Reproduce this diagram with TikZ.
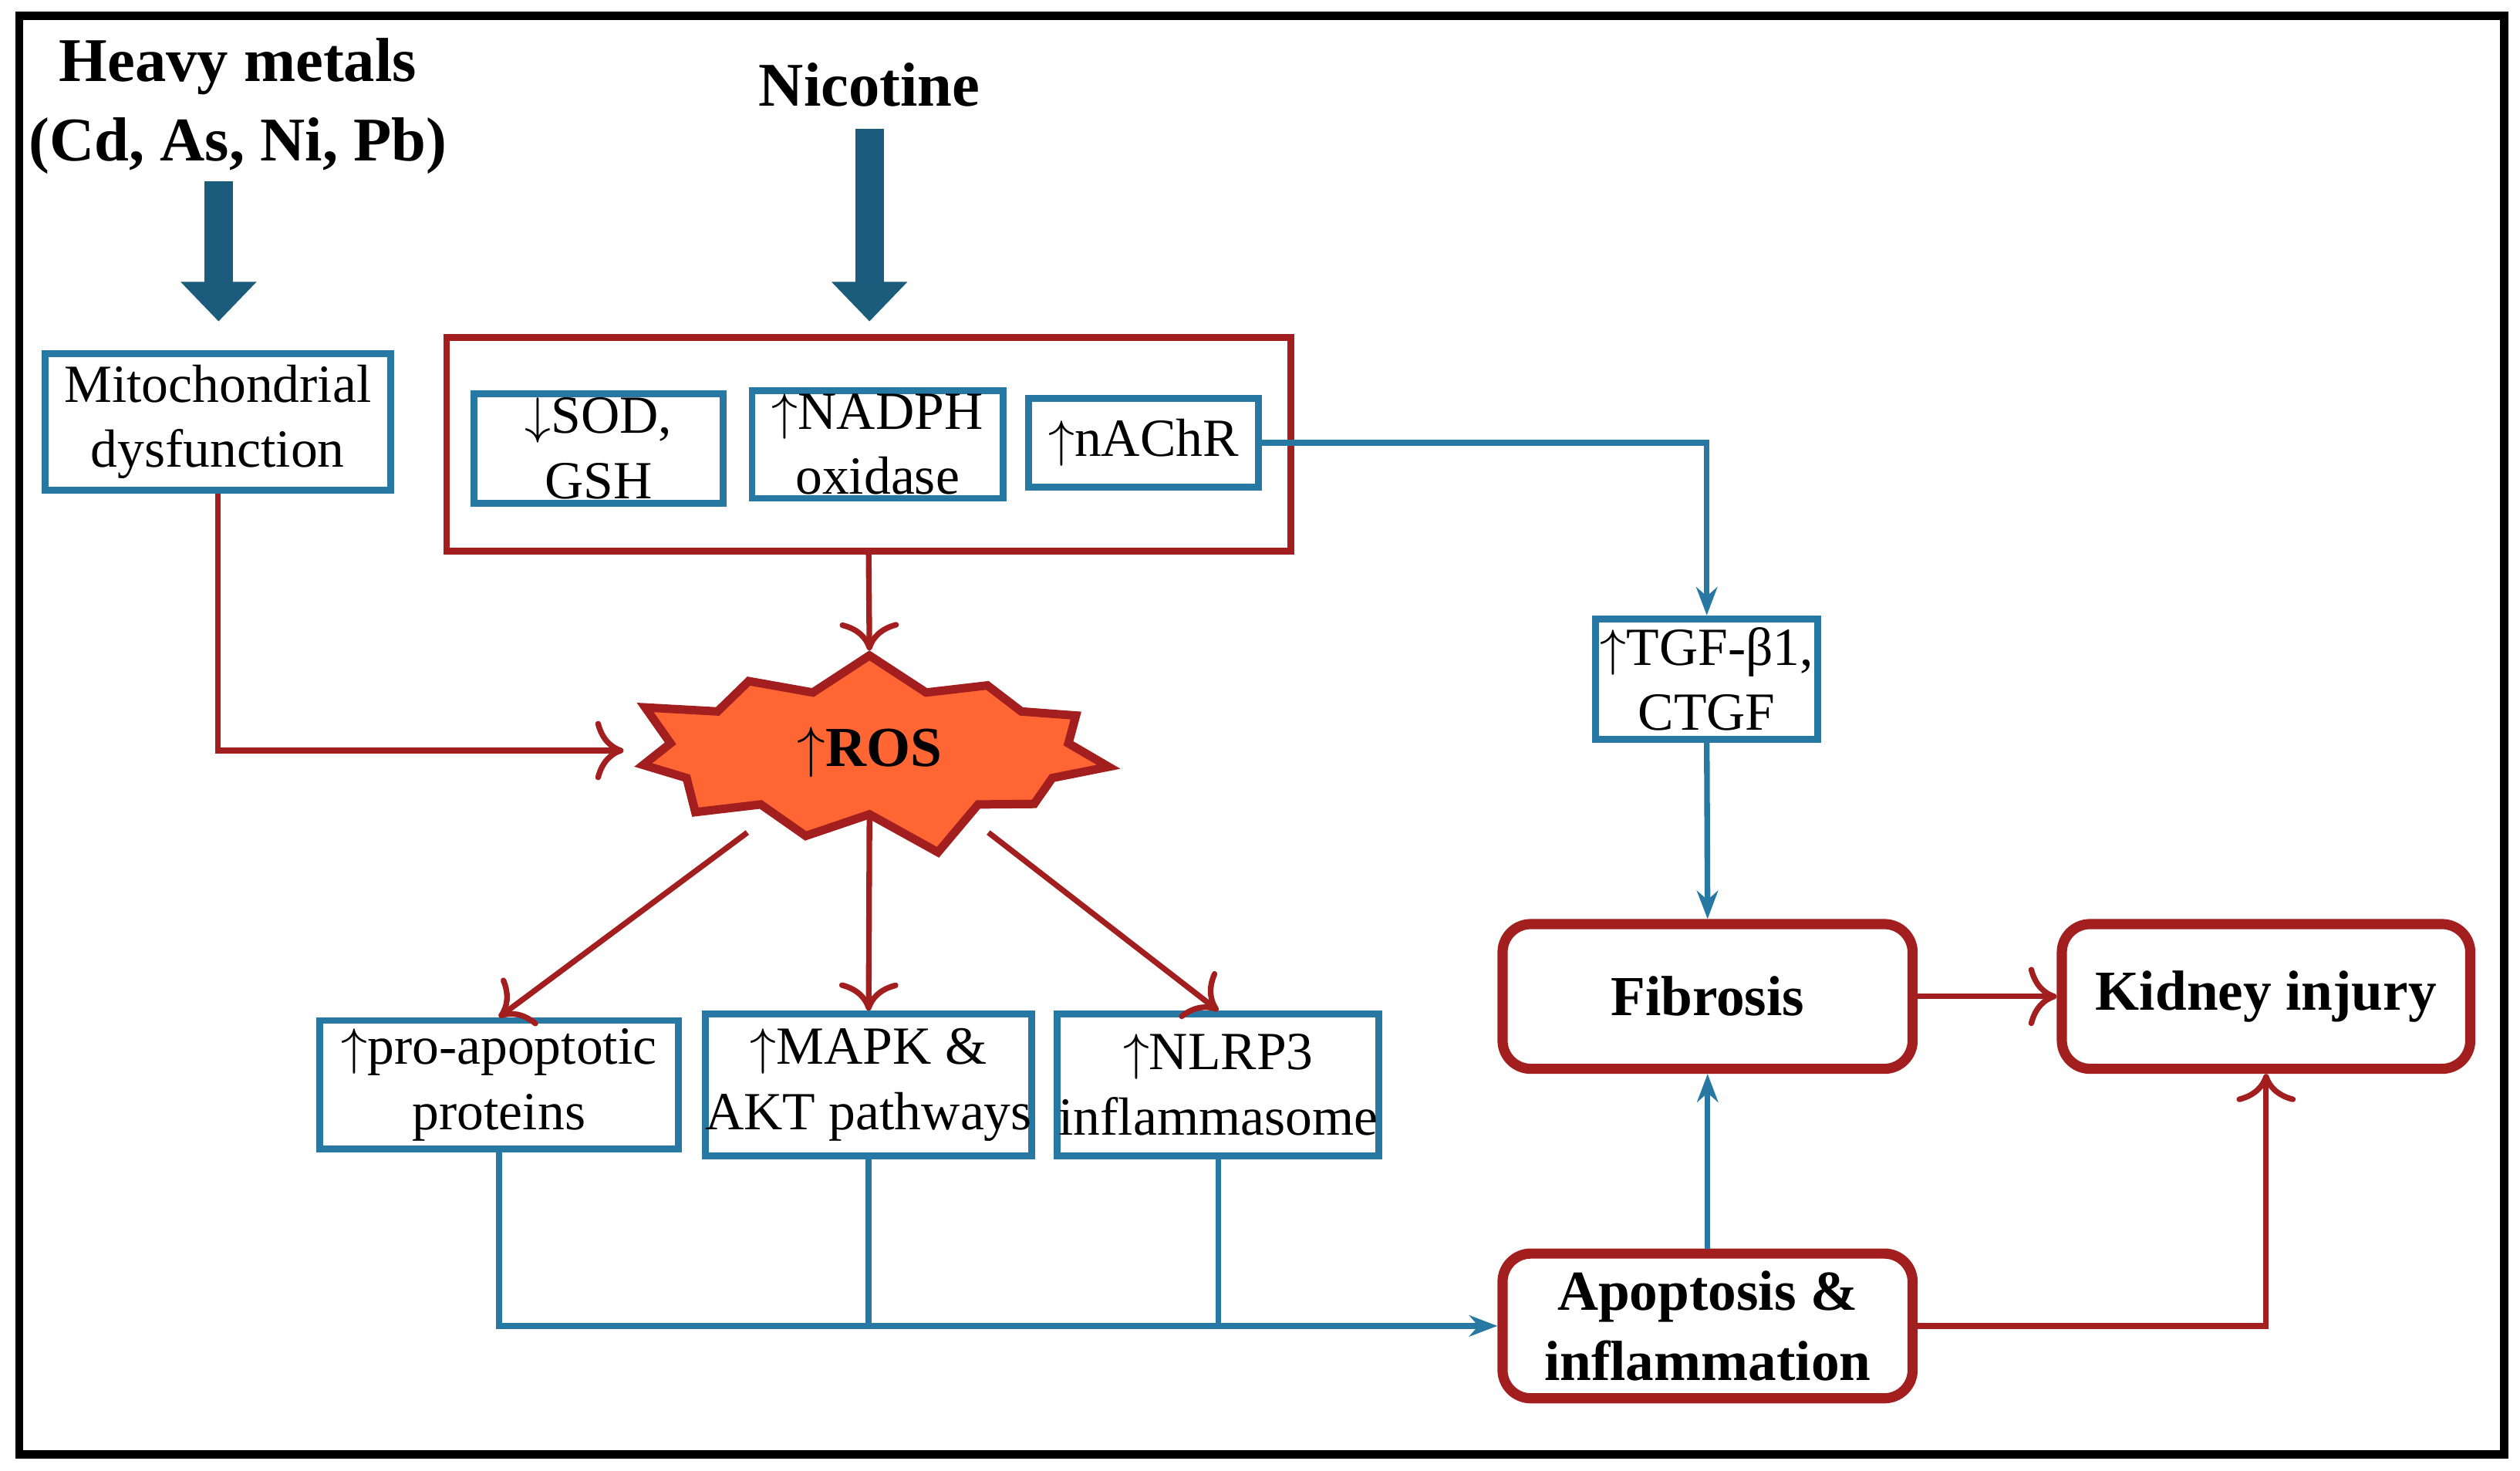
\documentclass[tikz,border=0pt]{standalone}
\usepackage{fontspec}
\setmainfont{Liberation Serif}
\usetikzlibrary{shapes.symbols,arrows.meta}
\definecolor{boxblue}{HTML}{2779A3}
\definecolor{boxred}{HTML}{A31F1F}
\definecolor{bigarrow}{HTML}{1B5B7C}
\definecolor{rosfill}{HTML}{FF6633}
\tikzset{
  bluebox/.style={draw=boxblue, line width=1.2pt, align=center, inner sep=0pt, font=\fontsize{9.5}{11.5}\selectfont},
  redbox/.style={draw=boxred, line width=1.8pt, rounded corners=5pt, align=center, inner sep=0pt, font=\bfseries\fontsize{10}{12.5}\selectfont},
  bluearrow/.style={draw=boxblue, line width=1pt, -{Stealth[length=5pt]}},
  bluepath/.style={draw=boxblue, line width=1pt},
  redarrow/.style={draw=boxred, line width=1pt, -{To[length=5pt]}},
  fatarrow/.style={draw=bigarrow, line width=5pt, -{Triangle[length=7pt,width=13pt]}},
  header/.style={font=\bfseries\fontsize{11}{14}\selectfont, align=center}
}
\begin{document}
\begin{tikzpicture}[x=0.01cm, y=-0.01cm]
  \useasboundingbox (0,0) rectangle (1568,915);
  \draw[line width=1.5pt] (12,10) rectangle (1558,905);
  % sources
  \node[header] (metals) at (148,66) {Heavy metals\\(Cd, As, Ni, Pb)};
  \node[header] (nicotine) at (541,53) {Nicotine};
  \coordinate (m1) at (136,113); \coordinate (m2) at (136,200);
  \coordinate (n1) at (541,80); \coordinate (n2) at (541,200);
  \draw[fatarrow] (m1) -- (m2);
  \draw[fatarrow] (n1) -- (n2);
  % upper boxes
  \node[bluebox, minimum width=215\pgflinewidth*0+2.15cm, minimum height=0.85cm] (mito) at (135.5,262.5) {Mitochondrial\\dysfunction};
  \node[draw=boxred, line width=1.2pt, minimum width=5.25cm, minimum height=1.33cm] (group) at (540.5,276.5) {};
  \node[bluebox, minimum width=1.55cm, minimum height=0.68cm] (sod) at (372.5,279) {$\downarrow$SOD,\\GSH};
  \node[bluebox, minimum width=1.56cm, minimum height=0.67cm] (nadph) at (546,276.5) {$\uparrow$NADPH\\oxidase};
  \node[bluebox, minimum width=1.43cm, minimum height=0.55cm] (nachr) at (711.5,275.5) {$\uparrow$nAChR};
  % ROS
  \node[starburst, starburst points=11, starburst point height=0.3cm, draw=boxred, line width=1.5pt,
        fill=rosfill, minimum width=3.1cm, minimum height=1.12cm, font=\bfseries\fontsize{10}{12}\selectfont] (ros) at (541,468) {$\uparrow$ROS};
  % effects
  \node[bluebox, minimum width=2.23cm, minimum height=0.8cm] (proap) at (310.5,675) {$\uparrow$pro-apoptotic\\proteins};
  \node[bluebox, minimum width=1.99cm, minimum height=0.88cm] (mapk) at (540.5,675) {$\uparrow$MAPK \&\\AKT pathways};
  \node[bluebox, minimum width=2.0cm, minimum height=0.88cm] (nlrp) at (758,675) {$\uparrow$NLRP3\\inflammasome};
  \node[bluebox, minimum width=1.38cm, minimum height=0.75cm] (tgf) at (1062,422.5) {$\uparrow$TGF-β1,\\CTGF};
  \node[redbox, minimum width=2.55cm, minimum height=0.9cm] (fibrosis) at (1062.5,620) {Fibrosis};
  \node[redbox, minimum width=2.54cm, minimum height=0.9cm] (kidney) at (1410,620) {Kidney injury};
  \node[redbox, minimum width=2.55cm, minimum height=0.9cm] (apop) at (1062.5,825) {Apoptosis \&\\inflammation};
  % connectors
  \coordinate (rosleft) at (388,467);
  \draw[redarrow] (mito.south) |- (rosleft);
  \draw[redarrow] (group.south) -- (ros.north);
  \draw[bluearrow] (nachr.east) -| (tgf.north);
  \draw[bluearrow] (tgf.south) -- (fibrosis.north);
  \coordinate (r1) at (465,518); \coordinate (r2) at (615,518);
  \draw[redarrow] (r1) -- (proap.north);
  \draw[redarrow] (ros.south) -- (mapk.north);
  \draw[redarrow] (r2) -- (nlrp.north);
  \draw[bluearrow] (proap.south) |- (apop.west);
  \draw[bluepath] (mapk.south) -- (mapk.south |- apop.west);
  \draw[bluepath] (nlrp.south) -- (nlrp.south |- apop.west);
  \draw[bluearrow] (apop.north) -- (fibrosis.south);
  \draw[redarrow] (fibrosis.east) -- (kidney.west);
  \draw[redarrow] (apop.east) -| (kidney.south);
\end{tikzpicture}
\end{document}
